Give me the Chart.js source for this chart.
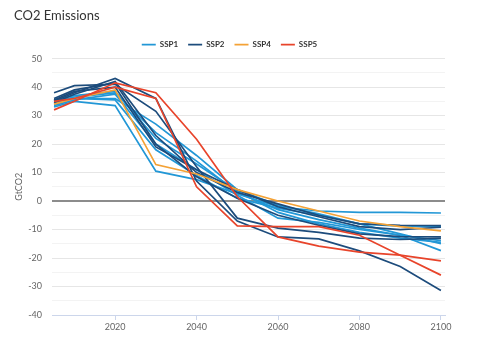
<!DOCTYPE html>
<html>
<head>
<meta charset="utf-8">
<script src="https://cdn.jsdelivr.net/npm/chart.js@4"></script>
<style>
  html, body { margin: 0; padding: 0; background: #fff; }
  #wrap { width: 480px; height: 353px; position: relative; }
</style>
</head>
<body>
<div id="wrap"><canvas id="co2Chart"></canvas></div>
<script>
// ── data ──────────────────────────────────────────────
const years = [2005, 2010, 2020, 2030, 2040, 2050, 2060, 2070, 2080, 2090, 2100];
const xTicks = [2020, 2040, 2060, 2080, 2100];

const ssp1Runs = [
  [33.0, 35.0, 33.5, 10.5, 7.5, 2.5, -2.0, -3.5, -4.0, -4.0, -4.2],
  [34.0, 36.0, 36.0, 27.0, 16.0, 4.0, -1.5, -4.5, -8.0, -11.5, -15.0],
  [35.0, 36.5, 38.0, 24.0, 14.0, 3.0, -3.0, -6.5, -9.5, -12.0, -17.4],
  [33.5, 35.5, 37.5, 20.0, 11.0, 2.0, -6.0, -7.5, -10.0, -12.0, -13.9],
  [34.5, 36.0, 35.5, 18.0, 9.0, 1.0, -2.5, -5.0, -8.0, -8.8, -9.0],
  [35.5, 37.0, 38.5, 22.0, 13.0, 3.5, -4.0, -8.0, -11.0, -13.0, -14.5]
];
const ssp2Runs = [
  [35.0, 38.0, 43.0, 36.0, 7.0, -7.0, -12.6, -13.3, -17.5, -23.0, -31.4],
  [38.0, 40.5, 41.0, 31.5, 12.0, -6.0, -9.5, -11.0, -13.0, -13.5, -13.1],
  [34.5, 37.5, 42.0, 23.0, 10.0, 3.0, -1.0, -5.0, -8.0, -8.5, -8.6],
  [36.0, 39.0, 41.5, 20.0, 8.5, 1.0, -5.0, -8.5, -11.5, -12.5, -12.6],
  [35.5, 38.5, 40.0, 19.0, 11.0, 4.0, -2.0, -5.5, -9.0, -10.0, -9.2]
];
const ssp4Runs = [
  [34.0, 36.0, 39.0, 12.8, 9.5, 4.0, 0.0, -3.5, -7.0, -9.0, -10.5]
];
const ssp5Runs = [
  [32.0, 35.0, 41.5, 38.0, 21.7, 1.5, -12.6, -15.8, -17.9, -19.0, -21.0],
  [35.0, 36.0, 40.0, 36.0, 5.0, -8.7, -9.0, -9.0, -12.0, -19.0, -26.0]
];

const scenarioNames = ['SSP1', 'SSP2', 'SSP4', 'SSP5'];
const scenarioRuns = [ssp1Runs, ssp2Runs, ssp4Runs, ssp5Runs];
const scenarioColors = ['#2297d6', '#1d4c7c', '#f4a236', '#e8442b'];

// one dataset per run, first run of each scenario carries the legend entry
const datasets = [];
scenarioRuns.forEach((runs, g) => {
  runs.forEach((run, i) => {
    datasets.push({
      label: scenarioNames[g],
      group: g,
      showInLegend: i === 0,
      data: run.map((v, k) => ({ x: years[k], y: v })),
      borderColor: scenarioColors[g],
      backgroundColor: scenarioColors[g],
      borderWidth: 1.7,
      pointRadius: 0,
      tension: 0,
      fill: false,
      order: scenarioNames.length - g
    });
  });
});

const FONT = 'Lato, "Open Sans", sans-serif';

const ctx = document.getElementById('co2Chart').getContext('2d');
const chart = new Chart(ctx, {
  type: 'line',
  data: { datasets },
  options: {
    responsive: true,
    maintainAspectRatio: false,
    animation: false,
    layout: { padding: { left: 14, right: 35, top: 0, bottom: 0 } },
    plugins: {
      title: {
        display: true,
        text: 'CO2 Emissions',
        align: 'start',
        color: '#333',
        font: { family: FONT, size: 13, weight: 'normal' },
        padding: { top: 8, bottom: 7 }
      },
      legend: {
        position: 'top',
        labels: {
          usePointStyle: true,
          pointStyle: 'line',
          pointStyleWidth: 14,
          boxHeight: 8,
          padding: 10,
          color: '#333',
          font: { family: FONT, size: 8, weight: 'bold' },
          filter: (item, data) => data.datasets[item.datasetIndex].showInLegend,
          sort: (a, b) => a.datasetIndex - b.datasetIndex
        }
      },
      tooltip: { enabled: false }
    },
    scales: {
      x: {
        type: 'linear',
        min: 2004.5,
        max: 2101,
        afterBuildTicks: s => { s.ticks = xTicks.map(v => ({ value: v })); },
        afterFit: s => { s.height = 38; },
        border: { display: true, color: '#ccd6eb', width: 1 },
        grid: { drawOnChartArea: false, drawTicks: true, tickLength: 5, color: '#ccd6eb' },
        ticks: { color: '#666', font: { family: FONT, size: 9 }, padding: 2, maxRotation: 0, callback: v => String(v) }
      },
      y: {
        min: -40,
        max: 50,
        afterFit: s => { s.width = 38; },
        border: { display: false },
        title: { display: true, text: 'GtCO2', color: '#666', font: { family: FONT, size: 9 }, padding: 0 },
        grid: {
          drawTicks: false,
          color: c => c.tick.value === 0 ? '#8c8c8c' : (c.tick.value % 10 === 0 ? '#e6e6e6' : '#f3f3f3'),
          lineWidth: c => c.tick.value === 0 ? 2 : 1
        },
        ticks: {
          stepSize: 5,
          padding: 10,
          color: '#666',
          font: { family: FONT, size: 9 },
          callback: v => v % 10 === 0 ? v : ''
        }
      }
    }
  }
});
</script>
</body>
</html>
